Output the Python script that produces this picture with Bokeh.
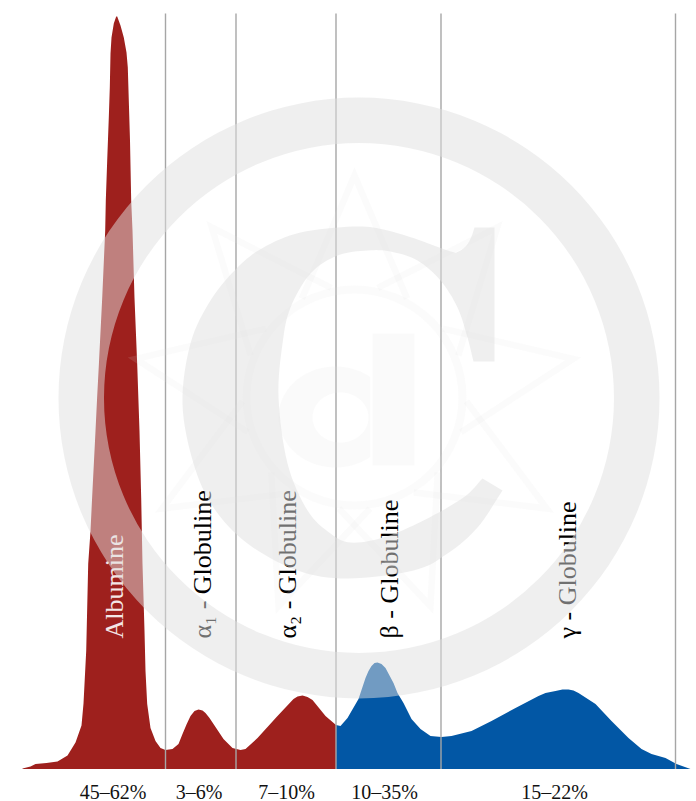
import numpy as np
from bokeh.plotting import figure
from bokeh.models import Range1d
from bokeh.core.properties import value
from bokeh.embed import file_html
from bokeh.resources import INLINE

# Densitogram: position along the strip / signal height
red_x = [22,30,35,46,57,67,75,81,83,85.7,87.7,90,91.6,95,96.6,98.4,101.7,104.7,105.3,106.7,108.3,109.3,110,111,113.3,115.7,
         116.7,120,123.3,126,127.3,128.3,129.5,130.7,132,134,136.7,139,140.7,142,144,145,146.7,150,155,160,165,172,178,182,186,190,
         194,198,202,205,209,213,223,232,240,245,257,277,293,297,302,307,312,325,335.5]
red_h = [0.5,2.5,5,6,7.5,13.5,26.5,43.5,65.5,118,205,238,271,338,371,405,471,538.5,568.5,608.5,651.5,681.5,715.5,731.5,745.5,752.5,
         752.5,743.5,731.5,716.5,701.5,668.5,628.5,568.5,538.5,471,405,338,271,205,138,98,65,41,28,21,19,20,25,35,44.5,53,
         58,59.5,58.5,56,51,45,30,21,19,20,31,53,70,72.5,73.5,72,69,53,44]
blue_x = [335.5,340,347,358,365,368,371,374,377,381,385,393,397,403,411,420,430,441,451,471,491,515,538,545,555,562,568,573,578,595,611,628,641,651,665,676,690]
blue_h = [44,43,51,70,91,98,103,106,106.5,105,101,86,76,66,50,40,33,32,33,38,48,61,73,76,78,79.5,79.5,78.5,76,65,48,31,20,15,11,5,0]

separators = [165,235.5,335.5,440.5,675]
separator_top = 755.5

band_labels = ["Albumine","α₁ - Globuline","α₂ - Globuline","β - Globuline","γ - Globuline"]
band_label_x = [113.5,201.5,286.5,388.5,566.5]
band_label_y = [130.5,130.5,130.5,130.5,130.5]
band_label_colors = ["#f4e6e6","#000000","#000000","#000000","#000000"]
pct_labels = ["45–62%","3–6%","7–10%","10–35%","15–22%"]
pct_x = [112.5,198.5,286,384,554]
pct_y = [-22.5]*5

RED = "#9e201d"
BLUE = "#0257a5"
BASE = 768.5

def Y(v):
    return BASE - np.asarray(v, dtype=float)

def smooth(pts, n=8):
    """Catmull-Rom outline for the watermark letter"""
    P = np.array(pts, dtype=float)
    P = np.vstack([2*P[0]-P[1], P, 2*P[-1]-P[-2]])
    out = []
    for i in range(1, len(P)-2):
        for t in np.linspace(0, 1, n, endpoint=False):
            p0,p1,p2,p3 = P[i-1],P[i],P[i+1],P[i+2]
            out.append(0.5*((2*p1)+(-p0+p2)*t+(2*p0-5*p1+4*p2-p3)*t*t+(-p0+3*p1-3*p2+p3)*t**3))
    out.append(P[-2])
    return np.array(out)

p = figure(width=696, height=801, x_range=Range1d(0,696), y_range=Range1d(BASE-801, BASE),
           output_backend="svg", toolbar_location=None, min_border=0,
           x_axis_type=None, y_axis_type=None, outline_line_color=None,
           background_fill_color="#ffffff", border_fill_color="#ffffff")
p.grid.visible = False

p.varea(x=red_x, y1=[0]*len(red_x), y2=red_h, fill_color=RED)
p.varea(x=blue_x, y1=[0]*len(blue_x), y2=blue_h, fill_color=BLUE)
p.segment(x0=separators, y0=[0]*5, x1=separators, y1=[separator_top]*5, line_color="#a6a6a6", line_width=1.4)

p.text(x=band_label_x, y=band_label_y, text=band_labels, angle=np.pi/2, text_color=band_label_colors,
       text_font=value("Liberation Serif"), text_font_size="26px", text_align="left", text_baseline="alphabetic")
p.text(x=pct_x, y=pct_y, text=pct_labels, text_color="#111111",
       text_font=value("Liberation Serif"), text_font_size="20px", text_align="center", text_baseline="alphabetic")

# Watermark, laid over the whole chart
WM = "#e0e0e0"
cx, cy = 358.5, 397.5
p.annulus(x=[cx], y=[BASE-cy], inner_radius=255, outer_radius=300.5, fill_color=WM, fill_alpha=0.5, line_color=None)

# faint nine-pointed star and ring
sx, sy = 354, 397
angs = np.deg2rad(np.arange(9)*40)
xs, ys = [], []
for a in angs:
    xs.append([sx+112*np.sin(a-np.deg2rad(28)), sx+222*np.sin(a), sx+112*np.sin(a+np.deg2rad(28))])
    ys.append([BASE-(sy-112*np.cos(a-np.deg2rad(28))), BASE-(sy-222*np.cos(a)), BASE-(sy-112*np.cos(a+np.deg2rad(28)))])
p.multi_line(xs=xs, ys=ys, line_color=WM, line_alpha=0.13, line_width=6.5, line_join="miter")
p.annulus(x=[sx], y=[BASE-sy], inner_radius=104, outer_radius=112, fill_color=WM, fill_alpha=0.13, line_color=None)

# faint letter d
t = np.linspace(0, 2*np.pi, 90)
bx = 335+57*np.cos(t); by = 416.5+50.5*np.sin(t)
keep = bx <= 372
hx = 340+28*np.cos(t); hy = 417+25*np.sin(t)
p.multi_polygons(xs=[[[list(bx[keep]), list(hx)], [[372,414,414,372]]]],
                 ys=[[[list(Y(by[keep])), list(Y(hy))], [list(Y([333,333,465,465]))]]],
                 fill_color=WM, fill_alpha=0.16, line_color=None)

# large serif C
outer = [(502,490),(477,527),(447,553),(413,570),(347,578),(297,570),(247,543),(213,507),(193,463),(182,403),
         (190,343),(210,300),(237,267),(263,247),(300,232),(353,226),(383,229),(417,239),(450,251),
         (458,251),(466,245),(471,236),(474,227)]
inner = [(473,361),(467,337),(457,307),(440,280),(417,260),(390,251),(367,250),(337,255),(310,273),(290,307),
         (282,343),(278,397),(287,463),(307,510),(330,533),(350,542),(383,537),(423,520),(463,497),(482,478)]
o, i = smooth(outer), smooth(inner)
cxs = list(o[:,0]) + [494,494] + list(i[:,0])
cys = list(Y(o[:,1])) + list(Y([227,361])) + list(Y(i[:,1]))
p.patch(x=cxs, y=cys, fill_color=WM, fill_alpha=0.5, line_color=None)

open("out.html", "w").write(file_html(p, INLINE))
